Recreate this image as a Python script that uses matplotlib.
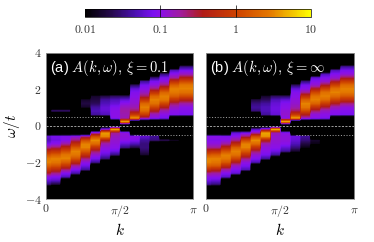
import numpy as np
import matplotlib
matplotlib.use("Agg")
import matplotlib.pyplot as plt
from matplotlib.colors import LinearSegmentedColormap, Normalize

plt.rcParams['mathtext.fontset'] = 'cm'
plt.rcParams['font.family'] = ['Liberation Sans', 'DejaVu Sans']

# log10 A(k, w) per column: (k column, lowest omega, values going up in steps of 0.2)
panel_a = [
    (0, -3.2, [-1.5, -1.2, -1.0, -.5, -.1, .25, .5, .45, .15, -.25, -.7, -1.1, -1.3, -1.2]),
    (1, -3.2, [-1.7, -1.25, -1.05, -.7, -.25, .15, .45, .5, .25, -.15, -.6, -1.0, -1.15, -1.1]),
    (2, -2.8, [-1.3, -1.05, -.65, -.15, .25, .5, .45, .1, -.3, -.75, -1.05, -1.05]),
    (3, -2.6, [-1.35, -1.05, -.75, -.3, .15, .45, .5, .2, -.2, -.65, -.95]),
    (4, -2.4, [-1.4, -1.15, -.95, -.65, -.2, .2, .5, .5, .1, -.7]),
    (5, -2.0, [-1.4, -1.1, -.9, -.6, -.15, .35, .55, .1, -.85]),
    (6, -1.8, [-1.5, -1.2, -1.05, -.95, -.8, -.4, .5, .6, -1.0]),
    (7, -1.6, [-1.5, -1.15, -1.0, -.95, -.9, -.85, -.7, .75]),
    (8, -1.2, [-1.5, -1.2, -1.0, -.95, -.95]),
    (9, -1.2, [-1.7, -1.3, -1.05, -1.0]),
    (10, -1.6, [-1.8, -1.6, -1.5, -1.5, -1.4, -1.2]),
    (11, -.8, [-1.5, -1.4]),
    (12, -.8, [-1.6]),
    (13, -.8, [-1.8]),
    (1, .8, [-1.5]),
    (2, .8, [-1.5]),
    (4, 1.0, [-1.8, -1.7, -1.8]),
    (5, .6, [-1.4, -1.3, -1.4, -1.6, -1.7, -1.8]),
    (6, .6, [-1.3, -1.2, -1.2, -1.3, -1.4, -1.7]),
    (7, .4, [-1.0, -1.0, -1.0, -1.05, -1.2, -1.3, -1.6]),
    (8, .2, [.75, -.8, -.8, -.75, -.85, -1.0, -1.2, -1.6]),
    (9, .4, [.65, -.1, -.6, -.8, -.9, -.95, -1.0, -1.05, -1.2, -1.6]),
    (10, .4, [-.7, -.05, .35, .5, .3, -.15, -.6, -.85, -1.0, -1.1, -1.4]),
    (11, .4, [-1.0, -.85, -.4, .05, .4, .5, .3, -.15, -.65, -.95, -1.1, -1.5]),
    (12, .4, [-1.1, -1.0, -.8, -.4, .05, .45, .5, .3, -.15, -.65, -.95, -1.1, -1.5]),
    (13, .6, [-1.05, -1.0, -.85, -.6, -.15, .25, .45, .5, .25, -.2, -.75, -1.0, -1.3]),
    (14, .6, [-1.1, -1.05, -1.0, -.75, -.35, .1, .4, .5, .45, .05, -.4, -.85, -1.1, -1.5]),
    (15, .6, [-1.1, -1.05, -1.0, -.75, -.35, .1, .4, .5, .45, .05, -.4, -.85, -1.1, -1.5]),
]

panel_b = [
    (0, -3.2, [-1.4, -1.15, -1.0, -.7, -.2, .25, .5, .5, .2, -.25, -.7, -.95, -1.05, -1.0]),
    (1, -3.2, [-1.5, -1.2, -1.0, -.75, -.3, .2, .45, .5, .25, -.2, -.7, -.95, -1.05, -1.0]),
    (2, -2.8, [-1.25, -1.05, -.75, -.25, .2, .45, .5, .15, -.3, -.75, -1.0, -1.05]),
    (3, -2.6, [-1.2, -1.05, -.85, -.45, .05, .4, .5, .25, -.25, -.7, -1.0, -1.2]),
    (4, -2.4, [-1.3, -1.1, -.95, -.65, -.2, .2, .5, .5, .05, -.6, -1.1]),
    (5, -2.0, [-1.3, -1.05, -.9, -.6, -.15, .35, .55, .1, -.8, -1.3]),
    (6, -1.8, [-1.4, -1.1, -1.0, -.95, -.8, -.35, .55, .65, -.8]),
    (7, -1.6, [-1.4, -1.15, -1.0, -.95, -.9, -.9, -.8, .8]),
    (8, -1.4, [-1.4, -1.2, -1.0, -.95, -.95, -1.0]),
    (9, -1.4, [-1.8, -1.5, -1.3, -1.2, -1.15]),
    (10, -1.2, [-1.9, -1.7, -1.5, -1.4]),
    (11, -1.0, [-1.9, -1.8]),
    (5, .8, [-1.5, -1.4, -1.5, -1.7]),
    (6, .6, [-1.4, -1.3, -1.3, -1.4, -1.6, -1.8]),
    (7, .6, [-1.2, -1.15, -1.15, -1.2, -1.3, -1.6]),
    (8, .2, [.8, -1.0, -.9, -.95, -1.0, -1.05, -1.2, -1.6]),
    (9, .4, [.7, -.1, -.6, -.8, -.9, -.95, -1.0, -1.05, -1.2, -1.6]),
    (10, .4, [-.85, -.4, .1, .45, .5, .25, -.2, -.7, -1.0, -1.1, -1.5]),
    (11, .4, [-1.0, -.95, -.6, -.15, .3, .5, .4, .05, -.45, -.9, -1.05, -1.2]),
    (12, .4, [-1.05, -1.0, -.85, -.5, -.05, .35, .5, .4, 0, -.5, -.9, -1.05, -1.3]),
    (13, .6, [-1.05, -1.0, -.8, -.45, 0, .35, .5, .4, 0, -.5, -.9, -1.05, -1.3]),
    (14, .6, [-1.1, -1.05, -.95, -.65, -.2, .2, .45, .5, .35, -.05, -.55, -.95, -1.1, -1.4]),
    (15, .6, [-1.1, -1.05, -.95, -.65, -.2, .2, .45, .5, .35, -.05, -.55, -.95, -1.1, -1.4]),
]

cbar_ticks = [-1, 0]
cbar_labels = ['$0.1$', '$1$']
y_ticks = [-4, -2, 0, 2, 4]
y_labels = ['$-4$', '$-2$', '$0$', '$2$', '$4$']
x_ticks = [0, np.pi / 2, np.pi]
x_labels = ['$0$', r'$\pi/2$', r'$\pi$']

ncols = 16
omega = np.arange(-4, 4.01, 0.2)

cmap = LinearSegmentedColormap.from_list('spec', [
    (0.0, '#000000'), (0.12, '#280a50'), (0.22, '#4a10b0'), (0.30, '#7a10f0'),
    (0.333, '#8a10e8'), (0.42, '#a01ca0'), (0.52, '#b01c18'), (0.667, '#cc4000'),
    (0.82, '#e47800'), (1.0, '#ffff00')])
norm = Normalize(-2, 1)


def make_grid(columns):
    grid = np.full((len(omega), ncols), -2.6)
    for col, start, vals in columns:
        i0 = int(round((start + 4) / 0.2))
        for j, v in enumerate(vals):
            grid[i0 + j, col] = v
    return grid


def draw(ax, columns, label, x1, x2):
    # repeat columns so the smoothing only acts along omega
    grid = np.repeat(make_grid(columns), 40, axis=1)
    dk = np.pi / 15
    im = ax.imshow(grid, origin='lower', aspect='auto', cmap=cmap, norm=norm,
                   extent=[-dk / 2, np.pi + dk / 2, -4.1, 4.1],
                   interpolation='bilinear', interpolation_stage='data')
    ax.set_xlim(0, np.pi)
    ax.set_ylim(-4, 4)
    ax.set_xticks(x_ticks, x_labels)
    ax.tick_params(length=0, labelsize=8.5, colors='#333333', pad=3)
    ax.set_xlabel('$k$', fontsize=11, labelpad=2)
    for s in ax.spines.values():
        s.set_color('#999999')
        s.set_linewidth(0.6)
    ax.axhline(0, color='#dddddd', lw=0.5, ls=(0, (3, 2)))
    ax.plot([0, x1 * np.pi], [0.5, 0.5], color='#dddddd', lw=0.5, ls=(0, (1.5, 2.5)))
    ax.plot([x2 * np.pi, np.pi], [-0.5, -0.5], color='#dddddd', lw=0.5, ls=(0, (1.5, 2.5)))
    ax.text(0.03, 0.965, label, transform=ax.transAxes, color='white', va='top',
            ha='left', fontsize=10.5)
    return im


fig = plt.figure(figsize=(3.74, 2.42), dpi=100)
W, H = 374.0, 242.0
ax_a = fig.add_axes([45.7 / W, 1 - 199 / H, 147.5 / W, 146.5 / H])
ax_b = fig.add_axes([205.7 / W, 1 - 199 / H, 148.5 / W, 146.5 / H])
cax = fig.add_axes([85.3 / W, 1 - 17.3 / H, 225.4 / W, 8.3 / H])

im = draw(ax_a, panel_a, r'(a) $A(k,\omega),\,\xi=0.1$', 0.39, 0.6)
draw(ax_b, panel_b, r'(b) $A(k,\omega),\,\xi=\infty$', 0.38, 0.61)

ax_a.set_yticks(y_ticks, y_labels)
ax_a.set_ylabel(r'$\omega/t$', fontsize=11)
ax_a.yaxis.set_label_coords(-0.16, 0.5)
ax_b.set_yticks([])

cb = fig.colorbar(im, cax=cax, orientation='horizontal')
cb.set_ticks(cbar_ticks, labels=cbar_labels)
cb.ax.tick_params(direction='in', length=8.3, width=0.5, color='black', labelsize=8.5,
                  labelcolor='#333333', pad=5)
cb.ax.text(0, -0.75, '$0.01$', transform=cb.ax.transAxes, ha='center', va='top', fontsize=8.5, color='#333333')
cb.ax.text(1, -0.75, '$10$', transform=cb.ax.transAxes, ha='center', va='top', fontsize=8.5, color='#333333')
cb.outline.set_linewidth(0.5)

fig.savefig('out.png', dpi=100)
